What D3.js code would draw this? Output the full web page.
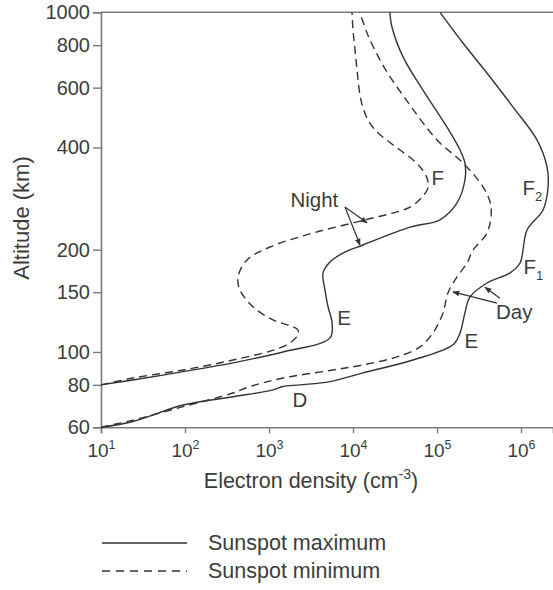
<!DOCTYPE html>
<html>
<head>
<meta charset="utf-8">
<script src="https://cdn.jsdelivr.net/npm/d3@7"></script>
<style>
  html, body { margin: 0; padding: 0; background: #fff; }
  svg { display: block; font-family: "Liberation Sans", Arial, Helvetica, sans-serif; }
</style>
</head>
<body>
<svg id="chart" width="553" height="590"></svg>
<script>
// ---- Data (electron density cm^-3, altitude km) ----
const nightMaxDensity = [10, 24, 95, 373, 1468, 5320, 5630, 5040, 4640, 4400, 5320, 7600, 13150, 47700, 108600, 173000, 215000, 215000, 188000, 131500, 68100, 39400, 29100, 27500];
const nightMaxAltitude = [80, 82.7, 87.5, 92.9, 100, 110, 121.8, 135.9, 152, 170.9, 184, 195.5, 206.5, 233, 245, 274.6, 320.8, 360, 393, 459, 590, 739, 905, 1000];

const nightMinDensity = [10, 24, 95, 373, 1468, 2150, 2215, 1930, 1117, 645, 452, 428, 547, 1028, 3340, 13150, 47700, 68100, 78200, 76000, 64500, 50400, 36300, 26100, 18800, 15100, 13150, 12100, 11170, 10570, 10000, 9730];
const nightMinAltitude = [80, 83.8, 88.5, 94.7, 103.7, 111, 116, 118.6, 124.2, 135.8, 152, 166.3, 186.6, 203.7, 224, 244, 267, 288, 304, 325, 348, 370, 393, 418, 447, 482, 523, 571, 676, 774, 887, 1000];

const dayMaxDensity = [10, 24, 95, 373, 1117, 1468, 2340, 5320, 13150, 51800, 155000, 188000, 215000, 247000, 394000, 740000, 973000, 1180000, 1830000, 2100000, 2040000, 1550000, 804000, 428000, 204000, 108600];
const dayMaxAltitude = [60, 62.4, 69.8, 73.8, 77.3, 79.1, 80, 81.8, 86.8, 94.7, 105, 113.8, 130.3, 145.2, 159.6, 171, 182.8, 228.6, 261.8, 306, 350.6, 421, 526, 645, 812, 1000];

const dayMinDensity = [10, 24, 95, 373, 594, 1468, 5320, 13150, 33400, 62800, 89600, 118000, 135000, 173000, 228000, 268000, 394000, 440000, 353000, 204000, 100000, 47700, 23400, 14700, 12100];
const dayMinAltitude = [60, 63, 69, 75.7, 79.1, 83.8, 88.2, 91.6, 96.7, 103.5, 113.8, 130.3, 149.2, 166.3, 182.8, 199.5, 224, 267, 306, 360, 421, 533, 690, 869, 1000];

const xTickValues = [10, 100, 1000, 10000, 100000, 1000000];
const xTickExponents = ["1", "2", "3", "4", "5", "6"];
const yTickValues = [60, 80, 100, 150, 200, 400, 600, 800, 1000];

const seriesNames = ["Sunspot maximum", "Sunspot minimum"];

// Annotation labels
const labelTexts = ["F", "F", "F", "Day", "E", "E", "D", "Night"];
const labelSubs = ["", "2", "1", "", "", "", "", ""];
const labelDensity = [86000, 1040000, 1070000, 505000, 212000, 6500, 1900, 1800];
const labelAltitude = [310, 290, 170, 125, 102.8, 120, 68.9, 267];

// Arrows: from (density, altitude) to (density, altitude)
const arrowFromDensity = [8030, 8030, 518000, 562000];
const arrowFromAltitude = [267, 267, 139.3, 144];
const arrowToDensity = [14700, 12100, 155000, 373000];
const arrowToAltitude = [240, 206.5, 150.2, 155];

// ---- Chart ----
const svg = d3.select("#chart");
const pLeft = 101, pRight = 553, pTop = 12.3, pBottom = 427.3;
const axisColor = "#7a7a7a", textColor = "#3c3c3c", lineColor = "#333";

const x = d3.scaleLog().domain([10, Math.pow(10, 1 + (pRight - pLeft) / 84)]).range([pLeft, pRight]);
const y = d3.scaleLog().domain([60, 1000]).range([pBottom, pTop]);

const defs = svg.append("defs");
defs.append("marker").attr("id", "arr").attr("viewBox", "0 0 10 10")
  .attr("refX", 9).attr("refY", 5).attr("markerWidth", 7).attr("markerHeight", 7)
  .attr("orient", "auto").attr("markerUnits", "userSpaceOnUse")
  .append("path").attr("d", "M0,1 L10,5 L0,9 Z").attr("fill", lineColor);

// Axes
const yAxis = svg.append("g").attr("transform", `translate(${pLeft},0)`)
  .call(d3.axisLeft(y).tickValues(yTickValues).tickFormat(d3.format("d")).tickSize(8).tickPadding(3));
const xAxis = svg.append("g").attr("transform", `translate(0,${pBottom})`)
  .call(d3.axisBottom(x).tickValues(xTickValues).tickFormat(() => "").tickSize(6).tickPadding(6));

[yAxis, xAxis].forEach(g => {
  g.select(".domain").attr("stroke", axisColor).attr("stroke-width", 1.6);
  g.selectAll(".tick line").attr("stroke", axisColor).attr("stroke-width", 1.4);
  g.selectAll("text").attr("fill", textColor).attr("font-family", "'Liberation Sans', Arial, sans-serif");
});
yAxis.selectAll("text").attr("font-size", 20);
// x tick labels 10^n
xAxis.selectAll(".tick").each(function(d, i) {
  const t = d3.select(this).select("text").attr("font-size", 19).attr("dy", null).attr("y", 30);
  t.text(null);
  t.append("tspan").text("10");
  t.append("tspan").attr("font-size", 12.5).attr("dy", -8).text(xTickExponents[i]);
});
// top border
svg.append("line").attr("x1", x(10)).attr("x2", pRight).attr("y1", y(1000)).attr("y2", y(1000))
  .attr("stroke", axisColor).attr("stroke-width", 1.6);

// Axis titles
svg.append("text").attr("transform", `translate(29,218) rotate(-90)`)
  .attr("text-anchor", "middle").attr("font-size", 22).attr("fill", textColor).text("Altitude (km)");
const xt = svg.append("text").attr("x", 311).attr("y", 488).attr("text-anchor", "middle")
  .attr("font-size", 21.5).attr("fill", textColor);
xt.append("tspan").text("Electron density (cm");
xt.append("tspan").attr("font-size", 14).attr("dy", -9).text("-3");
xt.append("tspan").attr("dy", 9).text(")");

// Curves
const line = d3.line().x(d => x(d[0])).y(d => y(d[1])).curve(d3.curveCatmullRom.alpha(0.5));
const curves = [
  { d: nightMaxDensity, a: nightMaxAltitude, dash: null },
  { d: nightMinDensity, a: nightMinAltitude, dash: "8,5" },
  { d: dayMaxDensity, a: dayMaxAltitude, dash: null },
  { d: dayMinDensity, a: dayMinAltitude, dash: "8,5" }
];
curves.forEach(c => {
  svg.append("path").datum(c.d.map((v, i) => [v, c.a[i]]))
    .attr("d", line).attr("fill", "none").attr("stroke", lineColor)
    .attr("stroke-width", 1.4).attr("stroke-dasharray", c.dash);
});

// Labels
labelTexts.forEach((t, i) => {
  const tx = svg.append("text").attr("x", x(labelDensity[i])).attr("y", y(labelAltitude[i]))
    .attr("font-size", 20.5).attr("fill", textColor);
  tx.append("tspan").text(t);
  if (labelSubs[i]) tx.append("tspan").attr("font-size", 13).attr("dy", 6).text(labelSubs[i]);
});

// Arrows
arrowFromDensity.forEach((v, i) => {
  svg.append("line").attr("x1", x(v)).attr("y1", y(arrowFromAltitude[i]))
    .attr("x2", x(arrowToDensity[i])).attr("y2", y(arrowToAltitude[i]))
    .attr("stroke", lineColor).attr("stroke-width", 1.2).attr("marker-end", "url(#arr)");
});

// Legend
const legendY = [543, 571];
seriesNames.forEach((n, i) => {
  svg.append("line").attr("x1", 102).attr("x2", 187).attr("y1", legendY[i]).attr("y2", legendY[i])
    .attr("stroke", lineColor).attr("stroke-width", 1.4).attr("stroke-dasharray", i === 1 ? "8,6" : null);
  svg.append("text").attr("x", 208).attr("y", legendY[i] + 7).attr("font-size", 21.5)
    .attr("fill", textColor).text(n);
});
</script>
</body>
</html>
